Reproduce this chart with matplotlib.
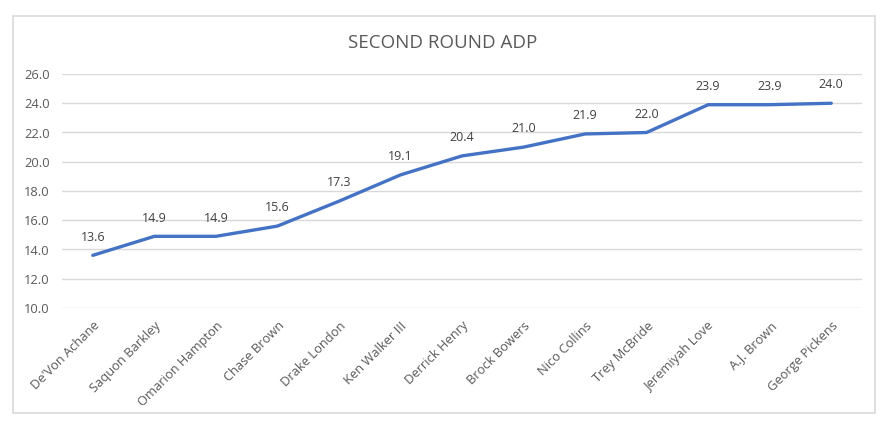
import matplotlib
matplotlib.use("Agg")
import matplotlib.pyplot as plt
from matplotlib.patches import Rectangle

players = ["De'Von Achane", "Saquon Barkley", "Omarion Hampton", "Chase Brown",
           "Drake London", "Ken Walker III", "Derrick Henry", "Brock Bowers",
           "Nico Collins", "Trey McBride", "Jeremiyah Love", "A.J. Brown",
           "George Pickens"]
adp = [13.6, 14.9, 14.9, 15.6, 17.3, 19.1, 20.4, 21.0, 21.9, 22.0, 23.9, 23.9, 24.0]
yticks = [10, 12, 14, 16, 18, 20, 22, 24, 26]
title = "SECOND ROUND ADP"

plt.rcParams['font.family'] = ['Open Sans', 'DejaVu Sans']
W, H = 885, 423
fig = plt.figure(figsize=(W/100, H/100), dpi=100)
fig.patch.set_facecolor('white')
fig.patches.append(Rectangle((13/W, 1-413/H), (875-13)/W, (413-16)/H,
                             transform=fig.transFigure, fill=False,
                             edgecolor='#d9d9d9', linewidth=1.2))

ax = fig.add_axes([62/W, 1-308/H, 800/W, (308-74)/H])
x = list(range(len(players)))
ax.plot(x, adp, color='#4472C4', linewidth=2.4, solid_capstyle='round', solid_joinstyle='round')
for xi, v in zip(x, adp):
    ax.annotate(f"{v:.1f}", (xi, v), xytext=(0, 8.5), textcoords='offset points',
                ha='center', va='bottom', fontsize=9, color='#404040')

ax.set_xlim(-0.5, len(players)-0.5)
ax.set_ylim(10, 26)
ax.set_yticks(yticks)
ax.set_yticklabels([f"{t:.1f}" for t in yticks], fontsize=9.3, color='#595959')
ax.set_xticks(x)
ax.set_xticklabels(players, rotation=45, ha='right', rotation_mode='anchor',
                   fontsize=9.3, color='#595959')
ax.tick_params(axis='both', length=0)
ax.tick_params(axis='y', pad=9)
ax.tick_params(axis='x', pad=8)
ax.grid(axis='y', color='#d9d9d9', linewidth=1)
ax.set_axisbelow(True)
for s in ax.spines.values():
    s.set_visible(False)

fig.text(443/W, 1-43/H, title, ha='center', va='center', fontsize=13.5, color='#595959')

fig.savefig('out.png', dpi=100)
